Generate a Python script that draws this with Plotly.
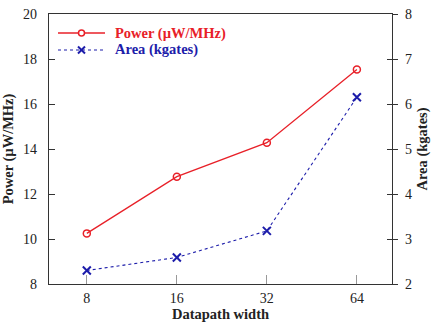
import plotly.graph_objects as go

categories = ["8", "16", "32", "64"]
power = [10.25, 12.77, 14.28, 17.53]
area = [2.30, 2.59, 3.18, 6.15]
legend_names = ["Power (µW/MHz)", "Area (kgates)"]

RED = "rgb(232,32,40)"
BLUE = "rgb(28,28,170)"
FONT = "Liberation Serif, Times New Roman, serif"

fig = go.Figure()
fig.add_trace(go.Scatter(
    x=categories, y=power, mode="lines+markers", name=legend_names[0], showlegend=False,
    line=dict(color=RED, width=1.3),
    marker=dict(symbol="circle-open", size=7, color=RED, line=dict(width=1.5)),
))
fig.add_trace(go.Scatter(
    x=categories, y=area, mode="lines+markers", yaxis="y2", name=legend_names[1], showlegend=False,
    line=dict(color=BLUE, width=1.1, dash="dot"),
    marker=dict(symbol="x-thin-open", size=8, color=BLUE, line=dict(width=2, color=BLUE)),
))
fig.add_trace(go.Scatter(x=[categories[0]], y=[None], yaxis="y3", showlegend=False, hoverinfo="skip"))

# manual legend (plot area: 343 x 270 px)
PW, PH = 343.0, 270.0
def px(x):
    return (x - 49) / PW
def py(y):
    return (284 - y) / PH

shapes = []
annotations = []
for i, (name, col, dash) in enumerate(zip(legend_names, [RED, BLUE], ["solid", "dot"])):
    yy = py(33 + 17 * i)
    shapes.append(dict(type="line", xref="paper", yref="paper", x0=px(58), x1=px(105), y0=yy, y1=yy,
                       line=dict(color=col, width=1.3 if i == 0 else 1.1, dash=dash)))
    annotations.append(dict(xref="paper", yref="paper", x=px(113), y=yy, xanchor="left", yanchor="middle",
                            text=f"<b>{name}</b>", showarrow=False, font=dict(size=14.5, color=col, family=FONT)))
# legend markers
cx = px(81.5)
shapes.append(dict(type="circle", xref="paper", yref="paper", xsizemode="pixel", ysizemode="pixel",
                   xanchor=cx, yanchor=py(33), x0=-3, x1=3, y0=-3, y1=3,
                   line=dict(color=RED, width=1.5), fillcolor="white"))
for d in (1, -1):
    shapes.append(dict(type="line", xref="paper", yref="paper", xsizemode="pixel", ysizemode="pixel",
                       xanchor=cx, yanchor=py(50), x0=-3.5, x1=3.5, y0=-3.5 * d, y1=3.5 * d,
                       line=dict(color=BLUE, width=2)))

fig.update_layout(
    width=431, height=322,
    margin=dict(l=49, r=39, t=14, b=38),
    paper_bgcolor="white", plot_bgcolor="white",
    font=dict(family=FONT, size=14, color="#222"),
    showlegend=False,
    shapes=shapes, annotations=annotations,
    xaxis=dict(type="category", range=[-0.42, 3.39], automargin=False,
               showline=True, linecolor="#333", linewidth=1.2, mirror=True,
               ticks="inside", ticklen=9, tickcolor="#999", tickwidth=1.2,
               ticklabelstandoff=1,
               showgrid=False, zeroline=False,
               title=dict(text="<b>Datapath width</b>", font=dict(size=14.5), standoff=2),
               tickfont=dict(size=14)),
    yaxis=dict(range=[8, 20], dtick=2, showline=True, linecolor="#333", linewidth=1.2,
               automargin=False,
               ticks="inside", ticklen=6, tickcolor="#333",
               ticklabelstandoff=8,
               showgrid=False, zeroline=False,
               title=dict(text="<b>Power (µW/MHz)</b>", font=dict(size=14.5), standoff=11),
               tickfont=dict(size=14)),
    yaxis2=dict(range=[2, 8], dtick=1, overlaying="y", side="right",
                automargin=False,
                showline=True, linecolor="#333", linewidth=1.2,
                ticks="outside", ticklen=5, tickcolor="#333",
                ticklabelstandoff=4,
                showgrid=False, zeroline=False,
                title=dict(text="<b>Area (kgates)</b>", font=dict(size=14.5), standoff=13),
                tickfont=dict(size=14)),
    yaxis3=dict(range=[2, 8], dtick=1, overlaying="y", side="right", automargin=False,
                ticks="inside", ticklen=5, tickcolor="#333",
                showticklabels=False, showgrid=False, zeroline=False, showline=False),
)

fig.write_html("out.html")
